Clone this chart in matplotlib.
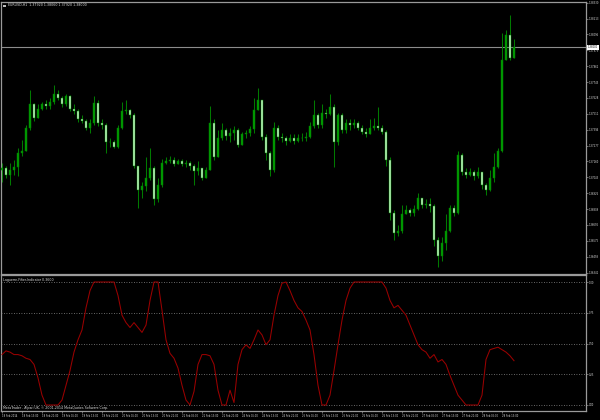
import matplotlib
matplotlib.use("Agg")
import matplotlib.pyplot as plt
import matplotlib.transforms as mtransforms
from matplotlib.patches import Rectangle

# ---------------- data ----------------
symbol = "EURUSD,H1"
indicator_name = "Laguerre-Filter-Indicator"
copyright_text = "MetaTrader - Alpari UK, \u00a9 2001-2014 MetaQuotes Software Corp."

first_open = 1.3710
close = [1.3711, 1.3706, 1.3710, 1.3712, 1.3722, 1.3724, 1.3741, 1.3758, 1.3748, 1.3755,
         1.3758, 1.3757, 1.3760, 1.3766, 1.3763, 1.3758, 1.3764, 1.3755, 1.3753, 1.3747,
         1.3746, 1.3741, 1.3744, 1.3759, 1.3744, 1.3743, 1.3730, 1.3730, 1.3727, 1.3741,
         1.3753, 1.3754, 1.3750, 1.3713, 1.3695, 1.3698, 1.3704, 1.3711, 1.3688, 1.3699,
         1.3715, 1.3716, 1.3717, 1.3714, 1.3716, 1.3714, 1.3715, 1.3713, 1.3709, 1.3711,
         1.3704, 1.3710, 1.3744, 1.3719, 1.3733, 1.3739, 1.3735, 1.3737, 1.3739, 1.3728,
         1.3736, 1.3737, 1.3740, 1.3754, 1.3761, 1.3734, 1.3722, 1.3710, 1.3741, 1.3734,
         1.3733, 1.3731, 1.3733, 1.3731, 1.3733, 1.3733, 1.3734, 1.3742, 1.3750, 1.3743,
         1.3752, 1.3751, 1.3756, 1.3730, 1.3750, 1.3739, 1.3744, 1.3743, 1.3744, 1.3741,
         1.3738, 1.3736, 1.3741, 1.3742, 1.3741, 1.3738, 1.3717, 1.3678, 1.3663, 1.3665,
         1.3677, 1.3680, 1.3678, 1.3681, 1.3689, 1.3684, 1.3685, 1.3683, 1.3658, 1.3646,
         1.3656, 1.3665, 1.3682, 1.3678, 1.3721, 1.3708, 1.3706, 1.3708, 1.3705, 1.3708,
         1.3699, 1.3695, 1.3704, 1.3712, 1.3724, 1.3791, 1.3809, 1.3792, 1.3800]
high = [1.3715, 1.3713, 1.3715, 1.3717, 1.3726, 1.3732, 1.3743, 1.3769, 1.3759, 1.3758,
        1.3760, 1.3761, 1.3763, 1.3772, 1.3769, 1.3764, 1.3766, 1.3765, 1.3758, 1.3755,
        1.3750, 1.3747, 1.3747, 1.3764, 1.3761, 1.3747, 1.3744, 1.3733, 1.3732, 1.3743,
        1.3760, 1.3761, 1.3755, 1.3752, 1.3713, 1.3701, 1.3719, 1.3726, 1.3713, 1.3704,
        1.3718, 1.3719, 1.3720, 1.3719, 1.3718, 1.3718, 1.3717, 1.3716, 1.3714, 1.3716,
        1.3710, 1.3712, 1.3757, 1.3747, 1.3739, 1.3744, 1.3741, 1.3741, 1.3742, 1.3741,
        1.3738, 1.3739, 1.3742, 1.3763, 1.3770, 1.3761, 1.3736, 1.3724, 1.3745, 1.3743,
        1.3737, 1.3735, 1.3736, 1.3736, 1.3736, 1.3737, 1.3738, 1.3745, 1.3761, 1.3752,
        1.3758, 1.3755, 1.3766, 1.3758, 1.3752, 1.3752, 1.3747, 1.3747, 1.3747, 1.3746,
        1.3743, 1.3741, 1.3747, 1.3748, 1.3756, 1.3743, 1.3739, 1.3719, 1.3680, 1.3669,
        1.3684, 1.3684, 1.3682, 1.3684, 1.3693, 1.3689, 1.3688, 1.3689, 1.3685, 1.3660,
        1.3660, 1.3677, 1.3684, 1.3684, 1.3724, 1.3722, 1.3711, 1.3711, 1.3710, 1.3712,
        1.3708, 1.3700, 1.3710, 1.3722, 1.3726, 1.3811, 1.3813, 1.3824, 1.3806]
low = [1.3701, 1.3704, 1.3699, 1.3706, 1.3705, 1.3720, 1.3724, 1.3739, 1.3746, 1.3748,
       1.3754, 1.3755, 1.3755, 1.3758, 1.3761, 1.3756, 1.3757, 1.3753, 1.3751, 1.3745,
       1.3744, 1.3739, 1.3737, 1.3743, 1.3742, 1.3740, 1.3722, 1.3727, 1.3726, 1.3726,
       1.3740, 1.3751, 1.3748, 1.3711, 1.3682, 1.3689, 1.3694, 1.3702, 1.3684, 1.3686,
       1.3697, 1.3714, 1.3715, 1.3713, 1.3714, 1.3713, 1.3712, 1.3710, 1.3699, 1.3706,
       1.3702, 1.3705, 1.3710, 1.3717, 1.3719, 1.3732, 1.3732, 1.3730, 1.3732, 1.3727,
       1.3728, 1.3733, 1.3735, 1.3737, 1.3757, 1.3732, 1.3717, 1.3705, 1.3708, 1.3732,
       1.3730, 1.3728, 1.3730, 1.3729, 1.3730, 1.3731, 1.3731, 1.3733, 1.3741, 1.3741,
       1.3741, 1.3748, 1.3750, 1.3712, 1.3728, 1.3737, 1.3737, 1.3739, 1.3741, 1.3739,
       1.3736, 1.3734, 1.3736, 1.3739, 1.3739, 1.3736, 1.3713, 1.3673, 1.3658, 1.3661,
       1.3663, 1.3677, 1.3676, 1.3676, 1.3680, 1.3682, 1.3682, 1.3679, 1.3654, 1.3638,
       1.3643, 1.3651, 1.3664, 1.3676, 1.3677, 1.3706, 1.3704, 1.3705, 1.3702, 1.3704,
       1.3696, 1.3691, 1.3694, 1.3701, 1.3711, 1.3723, 1.3791, 1.3791, 1.3792]

laguerre = [0.41, 0.44, 0.43, 0.41, 0.41, 0.40, 0.38, 0.37, 0.33, 0.22,
            0.08, 0.00, 0.00, 0.00, 0.00, 0.04, 0.16, 0.28, 0.43, 0.53,
            0.61, 0.79, 0.93, 1.00, 1.00, 1.00, 1.00, 1.00, 1.00, 0.89,
            0.73, 0.67, 0.63, 0.67, 0.63, 0.59, 0.65, 0.85, 1.00, 1.00,
            0.77, 0.53, 0.42, 0.38, 0.30, 0.16, 0.04, 0.00, 0.11, 0.33,
            0.41, 0.41, 0.40, 0.33, 0.12, 0.00, 0.00, 0.12, 0.02, 0.33,
            0.45, 0.49, 0.46, 0.53, 0.61, 0.57, 0.49, 0.53, 0.73, 0.89,
            0.99, 1.00, 0.93, 0.85, 0.79, 0.76, 0.69, 0.61, 0.41, 0.16,
            0.00, 0.00, 0.08, 0.28, 0.49, 0.69, 0.85, 0.95, 1.00, 1.00,
            1.00, 1.00, 1.00, 1.00, 1.00, 1.00, 0.95, 0.85, 0.79, 0.81,
            0.77, 0.73, 0.65, 0.57, 0.49, 0.45, 0.43, 0.38, 0.41, 0.35,
            0.37, 0.33, 0.24, 0.16, 0.08, 0.04, 0.00, 0.00, 0.00, 0.00,
            0.08, 0.37, 0.45, 0.46, 0.47, 0.45, 0.43, 0.40, 0.36]

price_ticks = [1.38330, 1.38213, 1.38096, 1.37979, 1.37862, 1.37745, 1.37628, 1.37511,
               1.37394, 1.37277, 1.37160, 1.37043, 1.36926, 1.36809, 1.36692, 1.36575,
               1.36458, 1.36341]
lag_ticks = [1.00, 0.75, 0.50, 0.25, 0.00]
time_labels = ["18 Feb 2014", "18 Feb 13:00", "18 Feb 21:00", "19 Feb 05:00", "19 Feb 13:00",
               "19 Feb 21:00", "20 Feb 05:00", "20 Feb 13:00", "20 Feb 21:00", "21 Feb 05:00",
               "21 Feb 13:00", "21 Feb 21:00", "24 Feb 05:00", "24 Feb 13:00", "24 Feb 21:00",
               "25 Feb 05:00", "25 Feb 13:00", "25 Feb 21:00", "26 Feb 05:00", "26 Feb 13:00",
               "26 Feb 21:00", "27 Feb 05:00", "27 Feb 13:00", "27 Feb 21:00", "28 Feb 05:00",
               "28 Feb 13:00"]
bars_per_label = 5

# ---------------- style ----------------
plt.rcParams['font.family'] = ['DejaVu Sans']
plt.rcParams['font.stretch'] = 'condensed'
W, H = 600, 420
FS = 2.6      # header texts
FS_AX = 1.95  # axis labels (very narrow room, as in the reference)
BG = 'black'
FRAME = '#9a9a9a'
TXT = '#dcdcdc'
WICK = '#007a00'
BULL = '#00a000'
BEAR = '#c8ffc8'
IND = '#9a0000'

fig = plt.figure(figsize=(6, 4.2), dpi=100, facecolor=BG)

def px_box(x0, y0, x1, y1):
    return [x0 / W, 1 - y1 / H, (x1 - x0) / W, (y1 - y0) / H]

ax1 = fig.add_axes(px_box(1, 2, 586, 274), facecolor=BG)
ax2 = fig.add_axes(px_box(1, 275, 586, 411), facecolor=BG)

n = len(close)
opens = [first_open] + close[:-1]
xs = list(range(n))

# candles
for i in xs:
    o, c = opens[i], close[i]
    hi = max(high[i], o, c)
    lo = min(low[i], o, c)
    ax1.vlines(i, lo, hi, color=WICK, linewidth=0.75, zorder=2)
    body_col = BULL if c >= o else BEAR
    ax1.bar(i, abs(c - o), bottom=min(o, c), width=0.5, color=body_col,
            edgecolor=WICK, linewidth=0.35, zorder=3)

# bid line
bid = close[-1]
ax1.axhline(bid, color='#8c8c8c', linewidth=0.8, zorder=1)

# axis limits (pixel-consistent)
ax1.set_xlim(-0.25, 146)
ax2.set_xlim(-0.25, 146)
p_top, p_per_px = 1.3835, 0.0000737
ax1.set_ylim(p_top - p_per_px * 274, p_top - p_per_px * 2)
ax2.set_ylim((405 - 411) / 123.0, (405 - 275) / 123.0)

# indicator
for lv in lag_ticks:
    ax2.axhline(lv, color='#8a8a8a', linewidth=0.6, linestyle=(0, (1, 2)), zorder=1)
ax2.plot(xs, laguerre, color=IND, linewidth=0.75, zorder=3)

# frames
for ax in (ax1, ax2):
    for s in ax.spines.values():
        s.set_color(FRAME)
        s.set_linewidth(0.9)

# price axis
ax1.set_xticks([])
ax1.yaxis.tick_right()
ax1.set_yticks(price_ticks)
ax1.set_yticklabels([f"{p:.5f}" for p in price_ticks])
ax1.tick_params(axis='y', labelcolor=TXT, labelsize=FS_AX, length=1.5, width=0.5,
                color=FRAME, pad=0.6)

ax2.yaxis.tick_right()
ax2.set_yticks(lag_ticks)
ax2.set_yticklabels([f"{v:.2f}" for v in lag_ticks])
ax2.tick_params(axis='y', labelcolor=TXT, labelsize=FS_AX, length=1.5, width=0.5,
                color=FRAME, pad=0.6)

tick_pos = [k * bars_per_label for k in range(len(time_labels))]
ax2.set_xticks(tick_pos)
ax2.set_xticklabels(time_labels, ha='left')
ax2.tick_params(axis='x', labelcolor=TXT, labelsize=FS_AX, length=1.5, width=0.5,
                color=FRAME, pad=0.8)

# bid label
trans = mtransforms.blended_transform_factory(ax1.transAxes, ax1.transData)
ax1.text(1.003, bid, f"{bid:.5f}", transform=trans, ha='left', va='center',
         fontsize=FS_AX, color='black', zorder=10, clip_on=False,
         bbox=dict(facecolor='white', edgecolor='none', pad=0.5))

# header texts
o_last = opens[-1]
h_last = max(high[-1], opens[-1], close[-1])
l_last = min(low[-1], opens[-1], close[-1])
c_last = close[-1]
fig.text(8 / W, 1 - 5.5 / H,
         f"{symbol}  {o_last:.5f} {h_last:.5f} {l_last:.5f} {c_last:.5f}",
         fontsize=FS, color=TXT, va='center', ha='left')
fig.patches.append(Rectangle((3 / W, 1 - 7 / H), 2.5 / W, 2.5 / H, transform=fig.transFigure,
                             facecolor='#bbbbbb', edgecolor='none'))
fig.text(3 / W, 1 - 280 / H, f"{indicator_name} {laguerre[-1]:.4f}",
         fontsize=FS, color=TXT, va='center', ha='left')
fig.text(3 / W, 1 - 407.5 / H, copyright_text,
         fontsize=FS, color=TXT, va='center', ha='left')

fig.savefig("out.png", dpi=100, facecolor=BG)
